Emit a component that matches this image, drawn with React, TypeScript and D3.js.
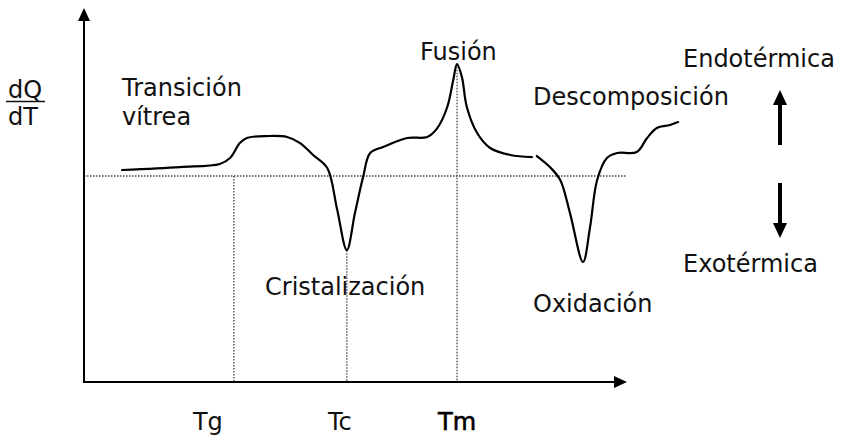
import React from "react";
import { scaleLinear, line, curveCatmullRom } from "d3";

// first trace: glass transition, crystallization, melting
const traceATemp = [7.0, 17.7, 25.0, 26.9, 28.7, 30.0, 33.7, 37.4, 39.8, 42.2, 44.8, 46.6, 48.4, 49.9, 51.4, 52.7, 55.1, 59.5, 63.2, 65.0, 66.9, 68.0, 68.7, 69.6, 70.5, 72.4, 74.8, 78.5, 82.5];
const traceAHeat = [0.58, 0.87, 1.17, 1.75, 3.2, 3.69, 3.88, 3.79, 3.2, 2.04, 0.78, -3.2, -7.2, -3.6, -0.1, 2.23, 2.82, 3.69, 3.79, 4.6, 6.7, 9.32, 10.87, 9.6, 6.7, 4.17, 2.72, 2.04, 1.84];

// second trace: oxidation dip, decomposition
const traceBTemp = [83.4, 85.8, 87.7, 89.5, 91.9, 93.2, 94.5, 96.3, 98.2, 101.8, 103.7, 105.5, 107.9, 109.4];
const traceBHeat = [1.94, 0.87, -0.39, -3.6, -8.35, -4.95, -0.39, 1.75, 2.23, 2.33, 3.69, 4.66, 4.95, 5.24];

// characteristic temperatures
const markerLabels = ["Tg", "Tc", "Tm"];
const markerTemps = [27.6, 48.4, 68.7];
const markerFrom = [0, -7.2, 10.9];

const W = 850;
const H = 442;
const font = "'DejaVu Sans', sans-serif";
const ink = "#111";

export default function App() {
  const xScale = scaleLinear().domain([0, 100]).range([84, 627]);
  const yScale = scaleLinear().domain([-20, 0]).range([382, 176]);

  const x0 = xScale(0);
  const y0 = yScale(-20);
  const xEnd = xScale(100);
  const yTop = 8;

  const path = line<[number, number]>()
    .x((d) => xScale(d[0]))
    .y((d) => yScale(d[1]))
    .curve(curveCatmullRom.alpha(0.5));

  const traceA = traceATemp.map((t, i) => [t, traceAHeat[i]] as [number, number]);
  const traceB = traceBTemp.map((t, i) => [t, traceBHeat[i]] as [number, number]);

  // small label nudges so text sits as in the drawing
  const labelDx = [-26, -7, 0];

  const txt = (s: string, x: number, y: number, extra: any = {}) => (
    <text x={x} y={y} fontFamily={font} fontSize={24} fill={ink} {...extra}>{s}</text>
  );

  return (
    <svg width={W} height={H} style={{ position: "absolute", left: 0, top: 0, background: "#fff" }}>
      {/* baseline */}
      <line x1={x0} x2={xEnd} y1={yScale(0)} y2={yScale(0)} stroke="#444" strokeWidth={1.3} strokeDasharray="1.5 1.5" />

      {/* marker guides */}
      {markerTemps.map((t, i) => (
        <line key={"g" + i} x1={xScale(t)} x2={xScale(t)} y1={yScale(markerFrom[i])} y2={y0} stroke="#444" strokeWidth={1.3} strokeDasharray="1.5 1.5" />
      ))}

      {/* axes */}
      <line x1={x0} x2={x0} y1={y0 + 1} y2={yTop + 10} stroke="#000" strokeWidth={2} />
      <path d={`M${x0},${yTop} L${x0 - 6},${yTop + 13} L${x0 + 6},${yTop + 13} Z`} fill="#000" />
      <line x1={x0 - 1} x2={xEnd - 10} y1={y0} y2={y0} stroke="#000" strokeWidth={2} />
      <path d={`M${xEnd},${y0} L${xEnd - 13},${y0 - 6} L${xEnd - 13},${y0 + 6} Z`} fill="#000" />

      {/* curves */}
      <path d={path(traceA) || ""} fill="none" stroke="#000" strokeWidth={2.2} strokeLinejoin="round" strokeLinecap="round" />
      <path d={path(traceB) || ""} fill="none" stroke="#000" strokeWidth={2.2} strokeLinejoin="round" strokeLinecap="round" />

      {/* marker labels */}
      {markerLabels.map((s, i) => (
        <text key={"m" + i} x={xScale(markerTemps[i]) + labelDx[i]} y={430} textAnchor="middle" fontFamily={font} fontSize={24}
          fill={i === 2 ? "#000" : ink} stroke={i === 2 ? "#000" : "none"} strokeWidth={0.6}>{s}</text>
      ))}

      {/* y label */}
      {txt("dQ", 8, 98)}
      <line x1={6} x2={45} y1={101.5} y2={101.5} stroke={ink} strokeWidth={1.5} />
      {txt("dT", 8, 125)}

      {/* annotations */}
      {txt("Transición", 122, 96)}
      {txt("vítrea", 122, 125)}
      {txt("Fusión", 420, 60)}
      {txt("Descomposición", 533, 105)}
      {txt("Cristalización", 265, 295)}
      {txt("Oxidación", 533, 312)}
      {txt("Endotérmica", 683, 67)}
      {txt("Exotérmica", 683, 272)}

      {/* heat direction arrows */}
      <line x1={780} x2={780} y1={145} y2={100} stroke="#000" strokeWidth={4} />
      <path d="M780,90 L773,105 L787,105 Z" fill="#000" />
      <line x1={780} x2={780} y1={183} y2={228} stroke="#000" strokeWidth={4} />
      <path d="M780,238 L773,223 L787,223 Z" fill="#000" />
    </svg>
  );
}
